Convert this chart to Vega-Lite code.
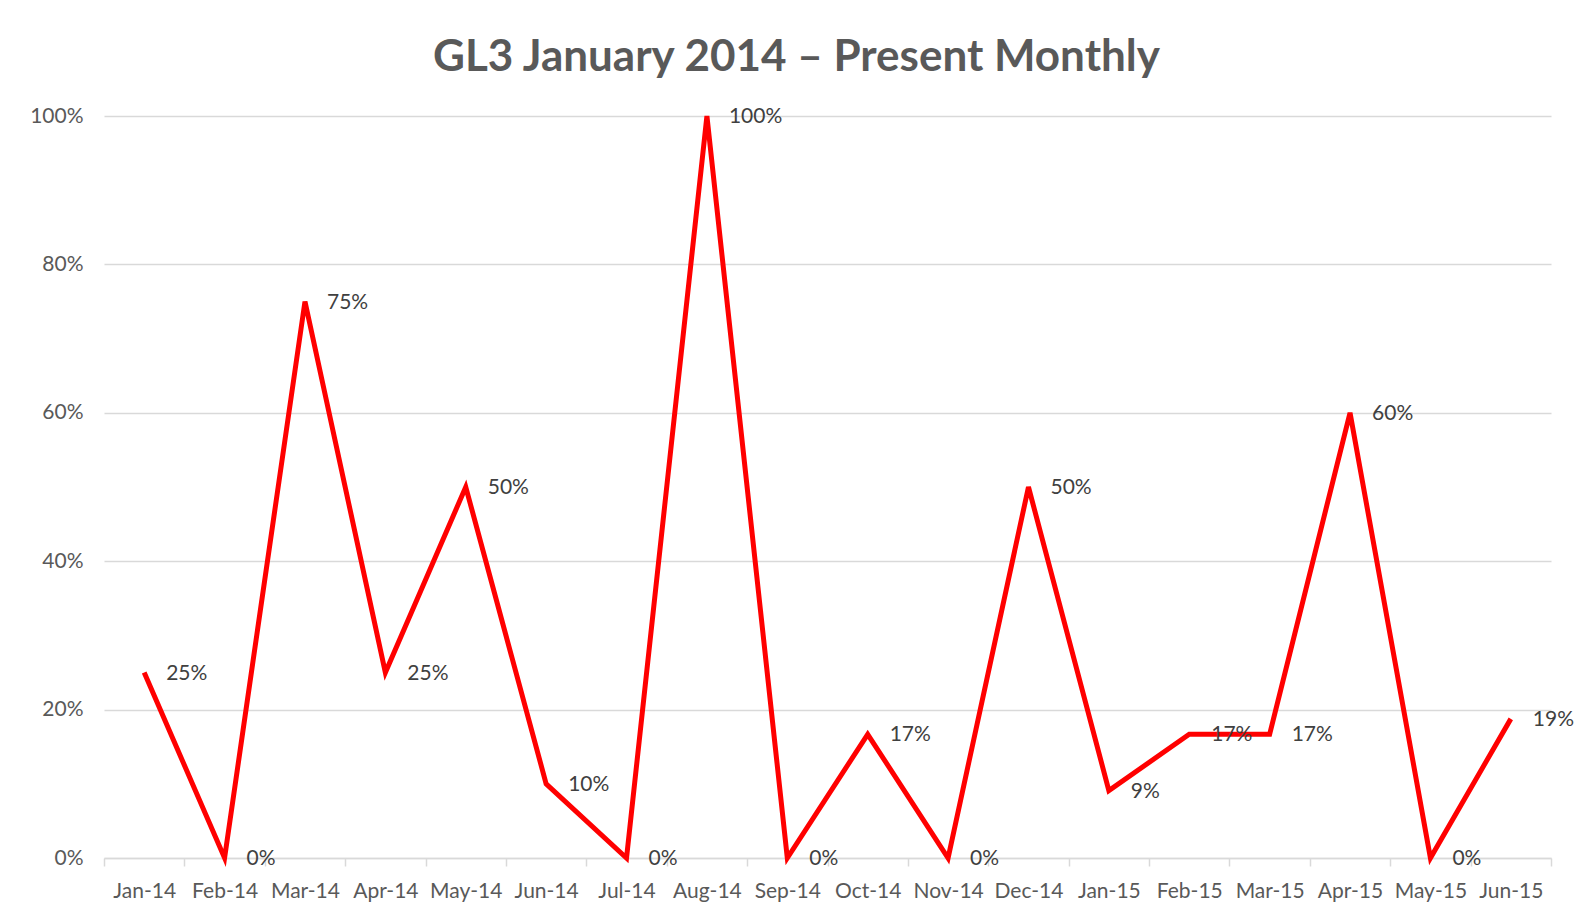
{
  "$schema": "https://vega.github.io/schema/vega-lite/v6.json",
  "width": 1447,
  "height": 742,
  "autosize": {"type": "none"},
  "padding": {"left": 104, "top": 116, "right": 36, "bottom": 58},
  "background": "white",
  "title": {
    "text": "GL3 January 2014 – Present Monthly",
    "anchor": "middle",
    "frame": "group",
    "dx": -31,
    "offset": 25,
    "font": "Lato",
    "fontSize": 44,
    "fontWeight": "bold",
    "color": "#595959"
  },
  "config": {
    "view": {"stroke": null},
    "font": "Lato"
  },
  "data": {
    "values": [
      {"month": "Jan-14", "pct": 0.25},
      {"month": "Feb-14", "pct": 0},
      {"month": "Mar-14", "pct": 0.75},
      {"month": "Apr-14", "pct": 0.25},
      {"month": "May-14", "pct": 0.5},
      {"month": "Jun-14", "pct": 0.1},
      {"month": "Jul-14", "pct": 0},
      {"month": "Aug-14", "pct": 1.0},
      {"month": "Sep-14", "pct": 0},
      {"month": "Oct-14", "pct": 0.1667},
      {"month": "Nov-14", "pct": 0},
      {"month": "Dec-14", "pct": 0.5},
      {"month": "Jan-15", "pct": 0.0909},
      {"month": "Feb-15", "pct": 0.1667},
      {"month": "Mar-15", "pct": 0.1667},
      {"month": "Apr-15", "pct": 0.6},
      {"month": "May-15", "pct": 0},
      {"month": "Jun-15", "pct": 0.1875}
    ]
  },
  "encoding": {
    "x": {
      "field": "month",
      "type": "ordinal",
      "sort": null,
      "bandPosition": 0.5,
      "scale": {"type": "band", "paddingInner": 0, "paddingOuter": 0},
      "axis": {
        "title": null,
        "labelAngle": 0,
        "labelFont": "Lato",
        "labelFontSize": 21,
        "labelColor": "#595959",
        "labelPadding": 14,
        "domainColor": "#d9d9d9",
        "domainWidth": 1.5,
        "tickColor": "#d9d9d9",
        "tickWidth": 1.5,
        "tickSize": 8,
        "tickBand": "extent",
        "grid": false
      }
    },
    "y": {
      "field": "pct",
      "type": "quantitative",
      "scale": {"domain": [0, 1], "nice": false},
      "axis": {
        "title": null,
        "values": [0, 0.2, 0.4, 0.6, 0.8, 1.0],
        "format": ".0%",
        "labelFont": "Lato",
        "labelFontSize": 21,
        "labelColor": "#595959",
        "labelPadding": 21,
        "domain": false,
        "ticks": false,
        "grid": true,
        "gridColor": "#d9d9d9",
        "gridWidth": 1.5
      }
    }
  },
  "layer": [
    {
      "mark": {"type": "line", "color": "#ff0000", "strokeWidth": 5, "strokeJoin": "miter"}
    },
    {
      "mark": {"type": "text", "align": "left", "baseline": "middle", "dx": 22, "dy": 1, "font": "Lato", "fontSize": 21, "color": "#404040"},
      "encoding": {
        "text": {"field": "pct", "type": "quantitative", "format": ".0%"}
      }
    }
  ]
}
